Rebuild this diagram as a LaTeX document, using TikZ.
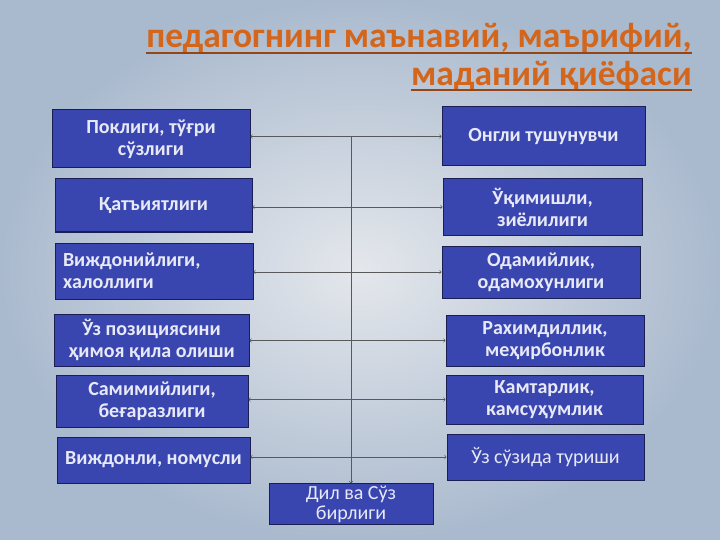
\documentclass[tikz,border=0pt]{standalone}
\usepackage{fontspec}
\setmainfont{Carlito}
\usetikzlibrary{positioning}
\definecolor{boxblue}{RGB}{58,70,176}
\definecolor{boxedge}{RGB}{26,30,80}
\definecolor{titleorange}{RGB}{212,102,28}
\definecolor{titleshade}{RGB}{150,70,20}
\definecolor{bgedge}{RGB}{170,186,206}
\definecolor{bgmid}{RGB}{228,231,236}
\tikzset{
  quality/.style={draw=boxedge, line width=1pt, fill=boxblue, text=white!88!boxblue,
    font=\bfseries\fontsize{20}{22}\selectfont, align=center, inner sep=2pt},
  title/.style={text=titleorange, font=\bfseries\fontsize{35.5}{40}\selectfont, inner sep=0pt},
  link/.style={black!65, line width=0.6pt, >=to}
}

\begin{document}
\begin{tikzpicture}[x=1pt, y=-1pt]
  \useasboundingbox (0,0) rectangle (720,540);
  \shade[inner color=bgmid, outer color=bgedge] (0,0) rectangle (720,540);

  % title
  \node [title, anchor=base east] (t1) at (692,48) {педагогнинг маънавий, маърифий,};
  \node [title, anchor=base east] (t2) at (692,86) {маданий қиёфаси};
  \draw [titleshade, line width=1.8pt] ([yshift=-5pt]t1.base west) -- ([yshift=-5pt]t1.base east);
  \draw [titleshade, line width=1.8pt] ([yshift=-4pt]t2.base west) -- ([yshift=-4pt]t2.base east);

  % left column
  \node [quality, minimum width=198, minimum height=58] (l1) at (151,139) {Поклиги, тўғри\\сўзлиги};
  \node [quality, minimum width=197, minimum height=53] (l2) at (153.5,205.5) {Қатъиятлиги};
  \node [quality, minimum height=56, text width=182pt, inner xsep=8pt, align=left] (l3) at (154,271) {Виждонийлиги,\\халоллиги};
  \node [quality, minimum width=195, minimum height=52] (l4) at (151.5,340) {Ўз позициясини\\ҳимоя қила олиши};
  \node [quality, minimum width=192, minimum height=52] (l5) at (152,401) {Самимийлиги,\\беғаразлиги};
  \node [quality, minimum width=193, minimum height=46] (l6) at (153.5,460) {Виждонли, номусли};

  % right column
  \node [quality, minimum width=203, minimum height=59] (r1) at (543.5,136.5) {Онгли тушунувчи};
  \node [quality, minimum width=199, minimum height=56] (r2) at (542.5,207) {Ўқимишли,\\зиёлилиги};
  \node [quality, minimum width=198, minimum height=52] (r3) at (541,272) {Одамийлик,\\одамохунлиги};
  \node [quality, minimum width=198, minimum height=51] (r4) at (545,340.5) {Рахимдиллик,\\меҳирбонлик};
  \node [quality, minimum width=197, minimum height=49] (r5) at (544.5,399.5) {Камтарлик,\\камсуҳумлик};
  \node [quality, minimum width=197, minimum height=46, font=\fontsize{20}{22}\selectfont] (r6) at (545.5,457) {Ўз сўзида туриши};

  \node [quality, minimum width=164, minimum height=40, font=\fontsize{20}{20}\selectfont] (bot) at (351,504) {Дил ва Сўз\\бирлиги};

  % connectors
  \foreach \i in {1,...,6}
    \draw [link, <->] (r\i.west -| l\i.east) -- (r\i.west);
  \coordinate (hub) at (r1.west -| bot.north);
  \draw [link, ->] (hub) -- (bot.north);
\end{tikzpicture}
\end{document}
